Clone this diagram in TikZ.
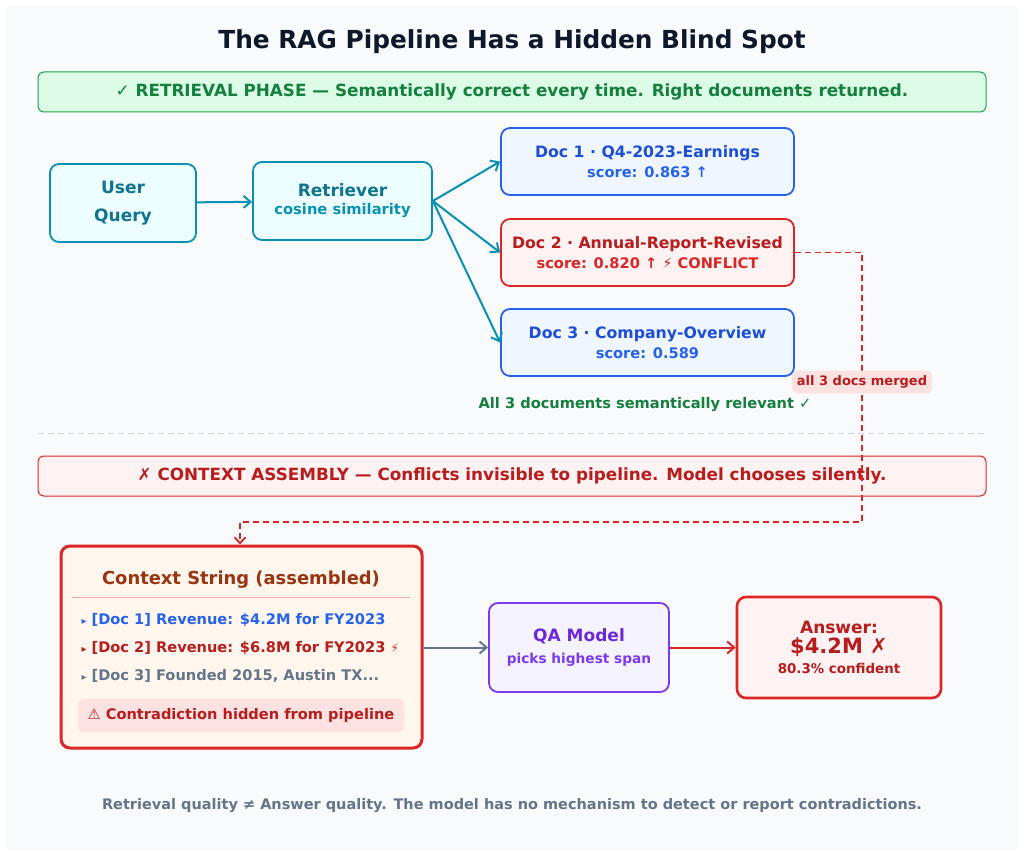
\documentclass[tikz,border=0pt]{standalone}
\usepackage{fontspec}
\setmainfont{DejaVu Sans}
\usetikzlibrary{positioning,arrows.meta}
\definecolor{bgc}{HTML}{F8FAFC}
\definecolor{ink}{HTML}{0F172A}
\definecolor{tealD}{HTML}{0E7490}
\definecolor{tealM}{HTML}{0891B2}
\definecolor{tealF}{HTML}{ECFEFF}
\definecolor{blueD}{HTML}{1D4ED8}
\definecolor{blueM}{HTML}{2563EB}
\definecolor{blueF}{HTML}{EFF6FF}
\definecolor{redD}{HTML}{B91C1C}
\definecolor{redM}{HTML}{DC2626}
\definecolor{redF}{HTML}{FEF2F2}
\definecolor{redL}{HTML}{FEE2E2}
\definecolor{redS}{HTML}{FCA5A5}
\definecolor{greenD}{HTML}{15803D}
\definecolor{greenM}{HTML}{16A34A}
\definecolor{greenF}{HTML}{DCFCE7}
\definecolor{orgF}{HTML}{FFF7ED}
\definecolor{orgD}{HTML}{9A3412}
\definecolor{purD}{HTML}{6D28D9}
\definecolor{purM}{HTML}{7C3AED}
\definecolor{purF}{HTML}{F5F3FF}
\definecolor{slate}{HTML}{64748B}
\definecolor{slateL}{HTML}{CBD5E1}
\tikzset{
  box/.style={draw, rounded corners=9pt, line width=1.8pt, align=center, font=\bfseries},
  band/.style={draw, rounded corners=6pt, line width=1pt, minimum width=948pt, minimum height=40pt, font=\bfseries\fontsize{16.8}{20}\selectfont},
  flow/.style={-{Straight Barb[length=7pt,width=12pt,line width=2pt]}, line width=2pt},
  small/.style={font=\bfseries\fontsize{14.6}{17}\selectfont}
}
\begin{document}
\begin{tikzpicture}[x=1pt,y=-1pt]
\useasboundingbox (0,0) rectangle (1024,856);
\fill[bgc, rounded corners=8pt] (5,5) rectangle (1019,851);
% title and phase bands
\node (title) at (512,42) {\bfseries\fontsize{24.8}{28}\selectfont\color{ink}The RAG Pipeline Has a Hidden Blind Spot};
\node[band, fill=greenF, draw=greenM, text=greenD] (retr) at (512,92) {✓ RETRIEVAL PHASE — Semantically correct every time. Right documents returned.};
\node[band, fill=redF, draw=redM, text=redD] (ctx) at (512,476) {✗ CONTEXT ASSEMBLY — Conflicts invisible to pipeline. Model chooses silently.};
\draw[slateL, dash pattern=on 6pt off 4pt, line width=1pt] (38,433) -- (986,433);
% retrieval nodes
\node[box, fill=tealF, draw=tealM, text=tealD, minimum width=146pt, minimum height=78pt, font=\bfseries\fontsize{17}{28}\selectfont] (query) at (123,203) {User\\Query};
\node[box, fill=tealF, draw=tealM, text=tealD, minimum width=179pt, minimum height=78pt] (retriever) at (342.5,201) {\fontsize{17}{20}\selectfont Retriever\\[6pt]{\fontsize{14.7}{17}\selectfont\color{tealM}cosine similarity}};
\node[box, fill=blueF, draw=blueM, text=blueD, minimum width=293pt, minimum height=67pt] (doc1) at (647.5,161.5) {\fontsize{15.7}{19}\selectfont Doc 1 · Q4-2023-Earnings\\[5pt]{\fontsize{14.6}{17}\selectfont\color{blueM}score: 0.863 ↑}};
\node[box, fill=redF, draw=redM, text=redD, minimum width=293pt, minimum height=67pt] (doc2) at (647.5,252.5) {\fontsize{15.7}{19}\selectfont Doc 2 · Annual-Report-Revised\\[5pt]{\fontsize{14.6}{17}\selectfont\color{redM}score: 0.820 ↑ ⚡ CONFLICT}};
\node[box, fill=blueF, draw=blueM, text=blueD, minimum width=293pt, minimum height=67pt] (doc3) at (647.5,342.5) {\fontsize{15.7}{19}\selectfont Doc 3 · Company-Overview\\[5pt]{\fontsize{14.6}{17}\selectfont\color{blueM}score: 0.589}};
\node[small, text=greenD] (relevant) at (645,405) {All 3 documents semantically relevant ✓};
\draw[flow, tealM] (query) -- (retriever);
\foreach \d in {doc1,doc2,doc3}
  \draw[flow, tealM] (retriever.east) -- (\d.west);
% context string
\node[box, fill=orgF, draw=redM, line width=3pt, minimum width=361pt, minimum height=202pt] (context) at (241.5,647) {};
\node[text=orgD, font=\bfseries\fontsize{17.9}{21}\selectfont] (ctitle) at (241,580) {Context String (assembled)};
\draw[redS, line width=1pt] (72,597) -- (410,597);
\node[small, text=blueM, anchor=west] (line1) at (78,620) {{\fontsize{10}{10}\selectfont▸} [Doc 1] Revenue: \$4.2M for FY2023};
\node[small, text=redD, anchor=west] (line2) at (78,648) {{\fontsize{10}{10}\selectfont▸} [Doc 2] Revenue: \$6.8M for FY2023 {\color{redM}\fontsize{12}{12}\selectfont⚡}};
\node[small, text=slate, anchor=west] (line3) at (78,676) {{\fontsize{10}{10}\selectfont▸} [Doc 3] Founded 2015, Austin TX...};
\node[small, fill=redL, text=redD, rounded corners=6pt, minimum width=326pt, minimum height=33pt] (warn) at (241,715.5) {⚠ Contradiction hidden from pipeline};
% model and answer
\node[box, fill=purF, draw=purM, text=purD, minimum width=180pt, minimum height=89pt] (qa) at (579,647.5) {\fontsize{17}{20}\selectfont QA Model\\[8pt]{\fontsize{13.7}{16}\selectfont\color{purM}picks highest span}};
\node[box, fill=redF, draw=redM, text=redD, line width=2.6pt, minimum width=204pt, minimum height=101pt] (answer) at (839,647.5) {\fontsize{17}{20}\selectfont Answer:\\[3pt]{\fontsize{21}{25}\selectfont \$4.2M ✗}\\[6pt]{\fontsize{13.4}{15}\selectfont 80.3\% confident}};
\draw[flow, slate] (context.east |- qa) -- (qa);
\draw[flow, redM] (qa) -- (answer);
% merge path
\coordinate (turn1) at (862,252.5);
\coordinate (turn2) at (862,522);
\coordinate (turn3) at (240,522);
\draw[redM, line width=1.8pt, dash pattern=on 6pt off 4pt, -{Straight Barb[length=6pt,width=11pt,line width=1.8pt]}] (doc2.east) -- (turn1) -- (turn2) -- (turn3) -- (context.north -| turn3);
\node[fill=redL, text=redD, rounded corners=5pt, font=\bfseries\fontsize{13}{15}\selectfont, inner sep=5pt] (merged) at (862,382) {all 3 docs merged};
% footer
\node[text=slate, font=\bfseries\fontsize{14.5}{17}\selectfont] (footer) at (512,806) {Retrieval quality ≠ Answer quality. The model has no mechanism to detect or report contradictions.};
\end{tikzpicture}
\end{document}
